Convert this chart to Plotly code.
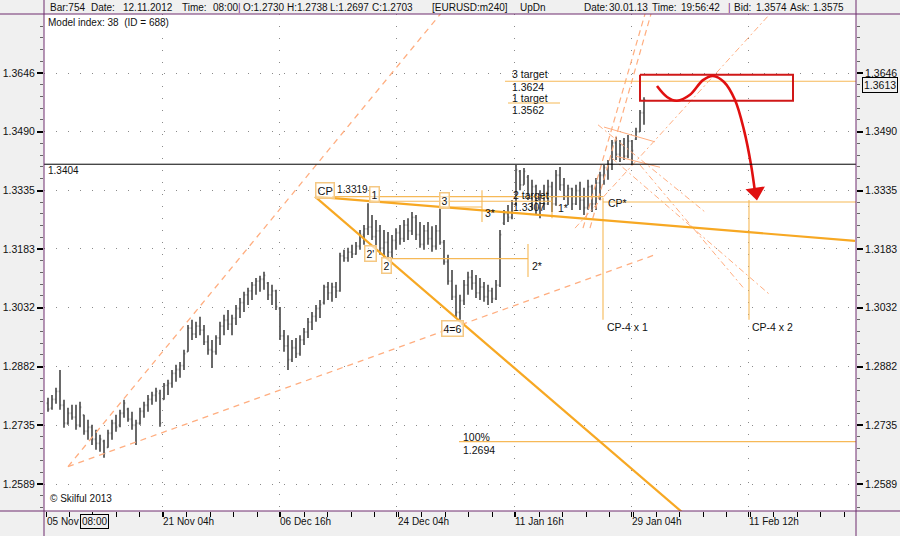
import numpy as np
import plotly.graph_objects as go

# ---------------- data (EURUSD m240 bars) ----------------
bar_index = list(range(1, 151))
open_ = [
 1.2790,1.2778,1.2800,1.2820,1.2785,1.2740,1.2765,1.2755,1.2735,1.2760,
 1.2720,1.2730,1.2700,1.2690,1.2695,1.2680,1.2715,1.2740,1.2735,1.2765,
 1.2775,1.2750,1.2735,1.2740,1.2770,1.2785,1.2800,1.2810,1.2815,1.2800,
 1.2835,1.2840,1.2865,1.2875,1.2885,1.2920,1.2980,1.2965,1.2985,1.2975,
 1.2945,1.2925,1.2920,1.2955,1.2985,1.3000,1.2990,1.3005,1.3030,1.3045,
 1.3065,1.3075,1.3090,1.3100,1.3105,1.3095,1.3065,1.3075,1.3030,1.2960,
 1.2935,1.2900,1.2930,1.2915,1.2950,1.2970,1.2995,1.3010,1.3030,1.3045,
 1.3085,1.3070,1.3085,1.3075,1.3165,1.3160,1.3175,1.3170,1.3190,1.3220,
 1.3235,1.3240,1.3215,1.3230,1.3185,1.3200,1.3175,1.3205,1.3225,1.3210,
 1.3245,1.3230,1.3265,1.3220,1.3195,1.3230,1.3210,1.3190,1.3230,1.3200,
 1.3150,1.3100,1.3060,1.3020,1.3050,1.3090,1.3110,1.3095,1.3070,1.3085,
 1.3060,1.3075,1.3055,1.3090,1.3250,1.3275,1.3265,1.3300,1.3385,1.3350,
 1.3370,1.3320,1.3345,1.3290,1.3320,1.3300,1.3345,1.3300,1.3375,1.3350,
 1.3320,1.3340,1.3300,1.3335,1.3310,1.3290,1.3345,1.3300,1.3355,1.3375,
 1.3395,1.3405,1.3460,1.3430,1.3455,1.3425,1.3465,1.3470,1.3490,1.3540]
high_ = [
 1.2804,1.2811,1.2829,1.2874,1.2799,1.2779,1.2786,1.2786,1.2794,1.2761,
 1.2749,1.2736,1.2724,1.2711,1.2699,1.2724,1.2749,1.2761,1.2774,1.2799,
 1.2779,1.2769,1.2749,1.2779,1.2794,1.2811,1.2819,1.2829,1.2824,1.2841,
 1.2849,1.2874,1.2887,1.2894,1.2925,1.2988,1.3001,1.2996,1.3009,1.2988,
 1.2962,1.2950,1.2962,1.2996,1.3014,1.3026,1.3014,1.3039,1.3057,1.3073,
 1.3083,1.3098,1.3108,1.3114,1.3124,1.3098,1.3091,1.3078,1.3034,1.2975,
 1.2962,1.2950,1.2955,1.2962,1.2980,1.3006,1.3021,1.3039,1.3052,1.3091,
 1.3098,1.3096,1.3098,1.3173,1.3181,1.3186,1.3194,1.3201,1.3232,1.3245,
 1.3302,1.3271,1.3258,1.3245,1.3232,1.3227,1.3219,1.3237,1.3245,1.3258,
 1.3263,1.3279,1.3271,1.3253,1.3245,1.3253,1.3242,1.3245,1.3292,1.3206,
 1.3168,1.3129,1.3091,1.3065,1.3103,1.3124,1.3129,1.3116,1.3108,1.3098,
 1.3091,1.3083,1.3103,1.3232,1.3284,1.3297,1.3310,1.3402,1.3389,1.3394,
 1.3376,1.3363,1.3350,1.3336,1.3350,1.3363,1.3358,1.3389,1.3397,1.3368,
 1.3350,1.3342,1.3350,1.3358,1.3342,1.3363,1.3350,1.3368,1.3384,1.3402,
 1.3415,1.3468,1.3476,1.3468,1.3473,1.3481,1.3468,1.3500,1.3547,1.3581]
low_ = [
 1.2769,1.2774,1.2789,1.2774,1.2729,1.2736,1.2749,1.2724,1.2730,1.2711,
 1.2699,1.2686,1.2674,1.2669,1.2654,1.2679,1.2699,1.2719,1.2730,1.2754,
 1.2744,1.2724,1.2686,1.2736,1.2754,1.2769,1.2786,1.2794,1.2731,1.2799,
 1.2811,1.2829,1.2844,1.2854,1.2874,1.2920,1.2950,1.2955,1.2962,1.2937,
 1.2912,1.2879,1.2912,1.2937,1.2962,1.2975,1.2962,1.2988,1.3006,1.3021,
 1.3039,1.3052,1.3065,1.3073,1.3078,1.3052,1.3039,1.3026,1.2950,1.2920,
 1.2874,1.2894,1.2904,1.2910,1.2937,1.2955,1.2975,1.2996,1.3006,1.3040,
 1.3052,1.3047,1.3057,1.3073,1.3150,1.3150,1.3160,1.3168,1.3181,1.3194,
 1.3219,1.3206,1.3181,1.3168,1.3160,1.3158,1.3160,1.3181,1.3194,1.3201,
 1.3206,1.3219,1.3206,1.3186,1.3181,1.3194,1.3176,1.3181,1.3194,1.3142,
 1.3091,1.3052,1.3006,1.3001,1.3039,1.3065,1.3078,1.3057,1.3052,1.3047,
 1.3039,1.3044,1.3052,1.3085,1.3245,1.3253,1.3260,1.3295,1.3336,1.3350,
 1.3310,1.3284,1.3271,1.3263,1.3284,1.3297,1.3279,1.3295,1.3336,1.3310,
 1.3297,1.3284,1.3297,1.3284,1.3271,1.3285,1.3279,1.3284,1.3310,1.3350,
 1.3363,1.3389,1.3415,1.3410,1.3415,1.3420,1.3402,1.3468,1.3489,1.3508]
close_ = [
 1.2775,1.2800,1.2820,1.2785,1.2740,1.2765,1.2755,1.2735,1.2780,1.2720,
 1.2730,1.2700,1.2690,1.2700,1.2665,1.2715,1.2740,1.2730,1.2765,1.2790,
 1.2750,1.2735,1.2740,1.2770,1.2785,1.2800,1.2810,1.2820,1.2740,1.2835,
 1.2840,1.2865,1.2875,1.2885,1.2915,1.2980,1.2965,1.2985,1.2975,1.2945,
 1.2925,1.2920,1.2955,1.2985,1.3000,1.2990,1.3005,1.3030,1.3045,1.3065,
 1.3075,1.3090,1.3100,1.3105,1.3115,1.3065,1.3075,1.3035,1.2960,1.2935,
 1.2900,1.2930,1.2915,1.2950,1.2970,1.2995,1.3010,1.3030,1.3040,1.3085,
 1.3070,1.3085,1.3075,1.3165,1.3160,1.3175,1.3170,1.3190,1.3220,1.3235,
 1.3240,1.3215,1.3230,1.3185,1.3200,1.3175,1.3205,1.3225,1.3210,1.3245,
 1.3230,1.3265,1.3220,1.3195,1.3230,1.3210,1.3190,1.3230,1.3200,1.3150,
 1.3100,1.3060,1.3020,1.3050,1.3090,1.3110,1.3095,1.3070,1.3085,1.3060,
 1.3075,1.3055,1.3090,1.3220,1.3275,1.3265,1.3300,1.3390,1.3350,1.3385,
 1.3320,1.3345,1.3290,1.3320,1.3300,1.3345,1.3300,1.3375,1.3350,1.3320,
 1.3340,1.3300,1.3335,1.3310,1.3290,1.3345,1.3300,1.3355,1.3375,1.3395,
 1.3405,1.3460,1.3430,1.3455,1.3425,1.3465,1.3440,1.3490,1.3540,1.3574]

price_ticks = [1.2589, 1.2735, 1.2882, 1.3032, 1.3183, 1.3335, 1.3490, 1.3646]
price_tick_labels = ["1.2589", "1.2735", "1.2882", "1.3032", "1.3183", "1.3335", "1.3490", "1.3646"]
time_tick_pos = [0.5, 29.5, 58.8, 88.2, 117.5, 146.8, 176.1]
time_tick_labels = ["05 Nov", "21 Nov 04h", "06 Dec 16h", "24 Dec 04h", "11 Jan 16h", "29 Jan 04h", "11 Feb 12h"]

# construction lines (bar index, price)
cp_upper_x = [67.75, 202.75];  cp_upper_y = [1.3319, 1.3204]
cp_lower_x = [67.75, 161.5];   cp_lower_y = [1.3319, 1.2503]
fan_up_x = [6.0, 102.0];       fan_up_y = [1.2632, 1.3843]
fan_low_x = [6.0, 152.75];     fan_low_y = [1.2632, 1.3168]
fan_r1_x = [134.75, 150.25];   fan_r1_y = [1.3237, 1.3805]
fan_r2_x = [136.5, 151.75];    fan_r2_y = [1.3237, 1.3805]
fan_r3_x = [132.75, 181.5];    fan_r3_y = [1.3237, 1.3805]
fan_r4_x = [138.5, 165.25];    fan_r4_y = [1.3508, 1.3279]
fan_r5_x = [142.0, 181.5];     fan_r5_y = [1.3420, 1.3065]
fan_r6_x = [149.0, 175.25];    fan_r6_y = [1.3402, 1.3078]
chan_a_x = [140.0, 152.75];    chan_a_y = [1.3502, 1.3463]
chan_b_x = [143.0, 154.0];     chan_b_y = [1.3425, 1.3396]

# horizontal / vertical level segments: (x0, x1, y0, y1)
level_segments = [
    (72.0, 139.75, 1.3319, 1.3319),     # CP level
    (83.25, 127.0, 1.3307, 1.3307),     # point 1 / 2 target level
    (100.75, 109.5, 1.3292, 1.3292),    # point 3 level
    (109.5, 109.5, 1.3336, 1.3253),     # 3*
    (127.0, 127.0, 1.3316, 1.3263),     # 1*
    (86.5, 121.0, 1.3158, 1.3158),      # point 2 level
    (121.0, 121.0, 1.3196, 1.3111),     # 2*
    (139.75, 139.75, 1.3316, 1.3001),   # CP-4 x 1
    (139.75, 203.0, 1.3305, 1.3305),    # CP*
    (176.25, 176.25, 1.3310, 1.3001),   # CP-4 x 2
    (115.25, 203.0, 1.3624, 1.3624),    # 3 target
    (116.0, 129.0, 1.3566, 1.3566),     # 1 target
    (103.75, 203.0, 1.2694, 1.2694),    # 100%
]
black_level = 1.3404
last_price = 1.3613

# forecast sketch
forecast_x = [153.25, 155.75, 158.25, 161.5, 164.75, 167.25, 170.0, 172.75, 175.0, 176.75, 177.75]
forecast_y = [1.3611, 1.3582, 1.3572, 1.3588, 1.3627, 1.3638, 1.3622, 1.3574, 1.3494, 1.3403, 1.3331]
box_x = [149.0, 187.25, 187.25, 149.0, 149.0]
box_y = [1.3641, 1.3641, 1.3572, 1.3572, 1.3641]

# ---------------- helpers for layout positions ----------------
L, R, T, B = 44, 44, 14, 25
W, H = 900, 536
PW, PH = W - L - R, H - T - B
def px2x(px):
    return (px - L) / 4.0
def py2price(py):
    return 1.3646 * np.exp(-(py - 73) / 5098.0)
def py2logy(py):
    return float(np.log10(py2price(py)))
def pxp(px):
    return (px - L) / PW
def pyp(py):
    return (H - B - py) / PH

ORANGE = "#F7A823"
ORANGE_T = "#F6B957"
SALMON = "#FFAE80"
FONT = "Liberation Sans"

fig = go.Figure()

fig.add_trace(go.Ohlc(
    x=bar_index, open=open_, high=high_, low=low_, close=close_,
    increasing=dict(line=dict(color="#5a5a5a", width=1.8)),
    decreasing=dict(line=dict(color="#5a5a5a", width=1.8)),
    tickwidth=0.3, hoverinfo="skip", showlegend=False))

def line(x, y, color, width, dash="solid", yaxis="y"):
    fig.add_trace(go.Scatter(x=x, y=y, mode="lines", yaxis=yaxis,
                             line=dict(color=color, width=width, dash=dash),
                             hoverinfo="skip", showlegend=False))

line(fan_up_x, fan_up_y, SALMON, 1.3, "6px,5px")
line(fan_low_x, fan_low_y, SALMON, 1.3, "6px,5px")
line(fan_r1_x, fan_r1_y, SALMON, 1.2, "6px,4px")
line(fan_r2_x, fan_r2_y, SALMON, 1.2, "6px,4px")
line(fan_r3_x, fan_r3_y, SALMON, 1.0, "6px,3px,2px,3px")
line(fan_r4_x, fan_r4_y, SALMON, 1.0, "6px,3px,2px,3px")
line(fan_r5_x, fan_r5_y, SALMON, 1.0, "6px,3px,2px,3px")
line(fan_r6_x, fan_r6_y, SALMON, 1.0, "6px,3px,2px,3px")
line(chan_a_x, chan_a_y, SALMON, 1.0)
line(chan_b_x, chan_b_y, SALMON, 1.0)

for (x0, x1, y0, y1) in level_segments:
    line([x0, x1], [y0, y1], ORANGE_T, 1.1)

line(cp_upper_x, cp_upper_y, ORANGE, 2.2)
line(cp_lower_x, cp_lower_y, ORANGE, 2.2)
line([-1, 204], [black_level, black_level], "#000000", 1.0, yaxis="y2")

line(box_x, box_y, "#D01818", 2.0)
line(forecast_x, forecast_y, "#E01010", 2.6)
fig.data[-1].line.shape = "spline"
fig.add_trace(go.Scatter(x=[forecast_x[-1] + 0.2], y=[forecast_y[-1]], mode="markers",
                         marker=dict(symbol="triangle-down", size=17, color="#E01010", angle=-8),
                         hoverinfo="skip", showlegend=False))

# ---------------- annotations ----------------
ann = []
def txt(px, py, s, size=10.5, color="#111111", box=None, xanchor="left"):
    d = dict(x=px2x(px), y=py2logy(py), xref="x", yref="y", text=s, showarrow=False,
             xanchor=xanchor, yanchor="middle", font=dict(family=FONT, size=size, color=color))
    if box:
        d.update(bordercolor=box, borderwidth=1.5, borderpad=1, bgcolor="rgba(255,255,255,0.6)")
    ann.append(d)

BOXC = "#F5C883"
txt(46, 22, "Model index: 38  (ID = 688)", size=10)
txt(46, 170, "1.3404", size=10)
txt(48, 498, "© Skilful 2013", size=10)
txt(315, 190, "CP", box=BOXC, size=11)
txt(335, 189, "1.3319", size=10)
txt(369, 194, "1", box=BOXC)
txt(439, 200, "3", box=BOXC)
txt(483, 213, "3*")
txt(511, 195, "2 target")
txt(511, 207, "1.3307")
txt(556, 208, "1*")
txt(364, 253, "2'", box=BOXC)
txt(381, 265, "2", box=BOXC)
txt(530, 266, "2*")
txt(441, 328, "4=6", box=BOXC)
txt(606, 203, "CP*")
txt(605, 327, "CP-4 x 1")
txt(750, 327, "CP-4 x 2")
txt(461, 437, "100%")
txt(461, 450, "1.2694")
txt(510, 74, "3 target")
txt(510, 87, "1.3624")
txt(510, 98, "1 target")
txt(510, 110, "1.3562")

# x axis labels
for pos, lab in zip(time_tick_pos, time_tick_labels):
    ann.append(dict(x=pos, y=pyp(521), xref="x", yref="paper", text=lab, showarrow=False,
                    xanchor="left", yanchor="middle", xshift=-1,
                    font=dict(family=FONT, size=10, color="#111111")))
ann.append(dict(x=pxp(80), y=pyp(521), xref="paper", yref="paper", text="08:00", showarrow=False,
                xanchor="left", yanchor="middle", bordercolor="#000000", borderwidth=1, borderpad=1,
                bgcolor="#F0F0F0", font=dict(family=FONT, size=10, color="#111111")))
# current price box on right scale
ann.append(dict(x=pxp(862), y=float(np.log10(last_price)), xref="paper", yref="y", text="1.3613",
                showarrow=False, xanchor="left", yanchor="middle", bordercolor="#000000",
                borderwidth=1, borderpad=1, bgcolor="#f0f0f0",
                font=dict(family=FONT, size=10.5, color="#111111")))

# header
header = [
    (48, "Bar:754", "#111111"), (89, "Date:", "#111111"), (121, "12.11.2012", "#111111"),
    (180, "Time:", "#111111"), (211, "08:00", "#111111"), (236, "|", "#7a2a7a"),
    (241, "O:1.2730", "#111111"), (285, "H:1.2738", "#111111"), (328, "L:1.2697", "#111111"),
    (370, "C:1.2703", "#111111"), (430, "[EURUSD:m240]", "#111111"), (518, "UpDn", "#111111"),
    (582, "Date:", "#111111"), (607, "30.01.13", "#111111"), (650, "Time:", "#111111"),
    (679, "19:56:42", "#111111"), (726, "|", "#7a2a7a"), (732, "Bid:", "#111111"),
    (754, "1.3574", "#111111"), (788, "Ask:", "#111111"), (811, "1.3575", "#111111"),
]
for px, s, c in header:
    ann.append(dict(x=pxp(px), y=pyp(7), xref="paper", yref="paper", text=s, showarrow=False,
                    xanchor="left", yanchor="middle", font=dict(family=FONT, size=10, color=c)))

# ---------------- frame lines ----------------
PURPLE = "#6E2D6E"
shapes = [
    dict(type="line", xref="paper", yref="paper", x0=pxp(0), x1=pxp(900), y0=pyp(14), y1=pyp(14),
         line=dict(color=PURPLE, width=1)),
    dict(type="line", xref="paper", yref="paper", x0=pxp(0), x1=pxp(900), y0=pyp(511), y1=pyp(511),
         line=dict(color=PURPLE, width=1)),
    dict(type="line", xref="paper", yref="paper", x0=pxp(44), x1=pxp(44), y0=pyp(0), y1=pyp(536),
         line=dict(color=PURPLE, width=1)),
    dict(type="line", xref="paper", yref="paper", x0=pxp(856), x1=pxp(856), y0=pyp(0), y1=pyp(536),
         line=dict(color=PURPLE, width=1)),
]

minor_vals = []
for a, b in zip(price_ticks[:-1], price_ticks[1:]):
    minor_vals += list(np.geomspace(a, b, 6)[1:-1])
minor_vals += list(np.geomspace(price_ticks[0] / (price_ticks[1] / price_ticks[0]), price_ticks[0], 6)[1:-1])
minor_vals += list(np.geomspace(price_ticks[-1], price_ticks[-1] * (price_ticks[-1] / price_ticks[-2]), 6)[1:-1])

yrange = [float(np.log10(py2price(511))), float(np.log10(py2price(14)))]
yax_common = dict(type="log", range=yrange, tickvals=price_ticks, ticktext=price_tick_labels,
                  ticks="outside", ticklen=6, tickwidth=2, tickcolor="#000000",
                  tickfont=dict(family=FONT, size=10.5, color="#111111"),
                  minor=dict(tickvals=minor_vals, ticks="outside", ticklen=3, tickcolor="#666666",
                             tickwidth=1, showgrid=False),
                  showline=False, zeroline=False, fixedrange=True, automargin=False)

fig.update_layout(
    width=W, height=H, margin=dict(l=L, r=R, t=T, b=B, pad=0, autoexpand=False),
    paper_bgcolor="#F0F0F0", plot_bgcolor="#FFFFFF", showlegend=False,
    font=dict(family=FONT, size=11, color="#111111"),
    xaxis=dict(range=[0, 203], tickvals=time_tick_pos[1:], ticktext=[""] * 6,
               showticklabels=False, ticks="outside", ticklen=5, tickcolor="#000000",
               showgrid=True, gridcolor="#8a8a8a", griddash="1px,11px", gridwidth=1,
               minor=dict(tick0=0.5, dtick=5.87, ticks="outside", ticklen=5, tickcolor="#000000",
                          showgrid=False),
               rangeslider=dict(visible=False), zeroline=False, showline=False, fixedrange=True,
               automargin=False),
    yaxis=dict(side="right", showgrid=True, gridcolor="#8a8a8a", griddash="1px,11px", gridwidth=1,
               **yax_common),
    yaxis2=dict(side="left", overlaying="y", anchor="x", showgrid=False, **yax_common),
    annotations=ann, shapes=shapes,
)

fig.write_html("out.html", config={"displayModeBar": False},
               post_script="document.body.style.margin='0px';")
